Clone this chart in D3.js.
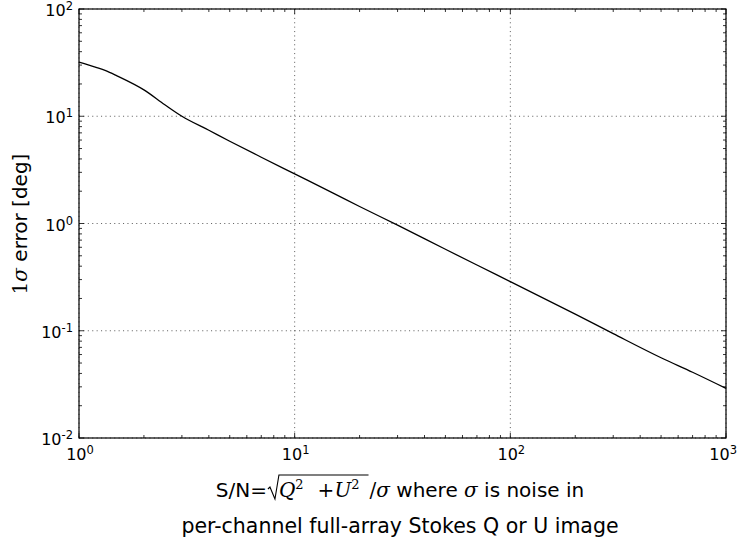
<!DOCTYPE html>
<html>
<head>
<meta charset="utf-8">
<script src="https://cdn.jsdelivr.net/npm/d3@7"></script>
<style>
  html, body { margin: 0; padding: 0; background: #fff; }
  svg { display: block; }
  text { font-family: "DejaVu Sans", sans-serif; fill: #000; }
</style>
</head>
<body>
<svg id="chart" width="738" height="543"></svg>
<script>
// ---- data ----
const snr = [1, 1.2, 1.33, 1.5, 2, 2.5, 3, 4, 5, 7, 10, 15, 20, 30, 50, 70, 100, 200, 300, 500, 700, 1000];
const errDeg = [32, 28.6, 26.6, 23.8, 17.6, 12.8, 10.0, 7.4, 5.85, 4.15, 2.9, 1.93, 1.44, 0.965, 0.575, 0.41, 0.287, 0.143, 0.094, 0.056, 0.041, 0.029];
const xTickExps = [0, 1, 2, 3];
const yTickExps = [-2, -1, 0, 1, 2];

const svg = d3.select("#chart");
const L = 79, R = 726, T = 9, B = 438;

const x = d3.scaleLog().domain([1, 1000]).range([L, R]);
const y = d3.scaleLog().domain([0.01, 100]).range([B, T]);

// grid
const grid = svg.append("g");
xTickExps.forEach(e => {
  const px = x(Math.pow(10, e));
  grid.append("line").attr("x1", px).attr("x2", px).attr("y1", T).attr("y2", B)
    .attr("stroke", "#000").attr("stroke-width", 0.6).attr("stroke-dasharray", "1.1,3.3");
});
yTickExps.forEach(e => {
  const py = y(Math.pow(10, e));
  grid.append("line").attr("x1", L).attr("x2", R).attr("y1", py).attr("y2", py)
    .attr("stroke", "#000").attr("stroke-width", 0.6).attr("stroke-dasharray", "1.1,3.3");
});

// curve
const line = d3.line().x(d => x(d[0])).y(d => y(d[1])).curve(d3.curveMonotoneX);
svg.append("path").datum(snr.map((s, i) => [s, errDeg[i]]))
  .attr("d", line).attr("fill", "none").attr("stroke", "#000").attr("stroke-width", 1.3);

// ticks (inside, all four sides)
const ticks = svg.append("g").attr("stroke", "#000").attr("stroke-width", 0.8);
function minorTicks(scale) {
  const [a, b] = scale.domain();
  const out = [];
  for (let e = Math.round(Math.log10(a)); e < Math.round(Math.log10(b)); e++)
    for (let k = 2; k <= 9; k++) out.push(k * Math.pow(10, e));
  return out;
}
const xMaj = xTickExps.map(e => Math.pow(10, e)), yMaj = yTickExps.map(e => Math.pow(10, e));
xMaj.forEach(v => { const p = x(v);
  ticks.append("line").attr("x1", p).attr("x2", p).attr("y1", B).attr("y2", B - 5);
  ticks.append("line").attr("x1", p).attr("x2", p).attr("y1", T).attr("y2", T + 5); });
minorTicks(x).forEach(v => { const p = x(v);
  ticks.append("line").attr("x1", p).attr("x2", p).attr("y1", B).attr("y2", B - 3);
  ticks.append("line").attr("x1", p).attr("x2", p).attr("y1", T).attr("y2", T + 3); });
yMaj.forEach(v => { const p = y(v);
  ticks.append("line").attr("y1", p).attr("y2", p).attr("x1", L).attr("x2", L + 5);
  ticks.append("line").attr("y1", p).attr("y2", p).attr("x1", R).attr("x2", R - 5); });
minorTicks(y).forEach(v => { const p = y(v);
  ticks.append("line").attr("y1", p).attr("y2", p).attr("x1", L).attr("x2", L + 3);
  ticks.append("line").attr("y1", p).attr("y2", p).attr("x1", R).attr("x2", R - 3); });

// frame
svg.append("rect").attr("x", L).attr("y", T).attr("width", R - L).attr("height", B - T)
  .attr("fill", "none").attr("stroke", "#000").attr("stroke-width", 1.2);

// tick labels
function powLabel(g, e, px, py, anchor) {
  const t = g.append("text").attr("x", px).attr("y", py).attr("text-anchor", anchor)
    .style("font-size", "16px");
  t.append("tspan").text("10");
  t.append("tspan").attr("dy", -6).style("font-size", "11.5px").text(String(e));
  return t;
}
const lab = svg.append("g");
xTickExps.forEach(e => {
  const t = powLabel(lab, e, x(Math.pow(10, e)) + 1, 460, "middle");
  const bb = t.node().getBBox();
  if (bb.x + bb.width > 737) t.attr("x", +t.attr("x") - (bb.x + bb.width - 737));
});
yTickExps.forEach(e => powLabel(lab, e, 73, y(Math.pow(10, e)) + 7, "end"));

// y axis label
const yl = svg.append("text").attr("transform", "translate(27,224) rotate(-90)")
  .attr("text-anchor", "middle").style("font-size", "20px");
yl.append("tspan").style("font-family", "'DejaVu Serif', serif").text("1");
yl.append("tspan").style("font-family", "'DejaVu Serif', serif").style("font-style", "italic").text("σ");
yl.append("tspan").text(" error [deg]");

// x axis label line 1
const serif = "'DejaVu Serif', serif";
const xl = svg.append("text").attr("x", 400).attr("y", 497).attr("text-anchor", "middle")
  .style("font-size", "20px");
xl.append("tspan").text("S/N=");
const radSpace = xl.append("tspan").style("font-family", serif).text("\u2009\u2009\u2009");
xl.append("tspan").style("font-family", serif).style("font-style", "italic").text("Q");
xl.append("tspan").attr("dy", -8).style("font-family", serif).style("font-size", "13px").text("2");
xl.append("tspan").attr("dy", 8).style("font-family", serif).text("\u2002\u2009+");
xl.append("tspan").style("font-family", serif).style("font-style", "italic").text("U");
const u2 = xl.append("tspan").attr("dy", -8).style("font-family", serif).style("font-size", "13px").text("2");
xl.append("tspan").attr("dy", 8).style("font-family", serif).text("\u2002/");
xl.append("tspan").style("font-family", serif).style("font-style", "italic").text("σ");
xl.append("tspan").text(" where ");
xl.append("tspan").style("font-family", serif).style("font-style", "italic").text("σ");
xl.append("tspan").text(" is noise in");

// radical sign + overbar
const rb = radSpace.node().getBBox();
const ub = u2.node().getBBox();
const barY = 475;
const rx0 = rb.x + 1;
svg.append("path")
  .attr("d", `M${rx0},${489} L${rx0 + 2},${487} L${rx0 + 7},${499} L${rb.x + rb.width},${barY} L${ub.x + ub.width + 9},${barY}`)
  .attr("fill", "none").attr("stroke", "#000").attr("stroke-width", 1.1);

svg.append("text").attr("x", 400).attr("y", 533).attr("text-anchor", "middle")
  .style("font-size", "20.5px").text("per-channel full-array Stokes Q or U image");
</script>
</body>
</html>
